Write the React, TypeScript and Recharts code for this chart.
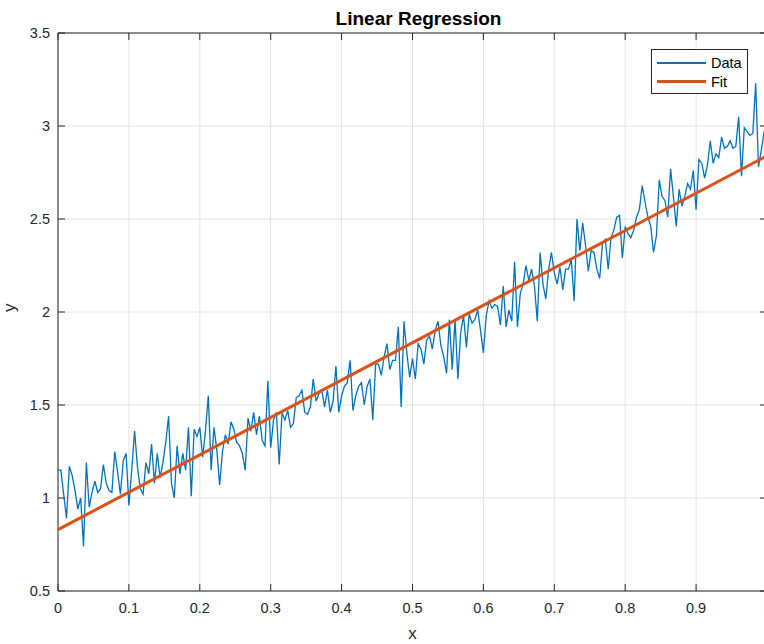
import { LineChart, Line, XAxis, YAxis, CartesianGrid, Legend, ReferenceArea } from 'recharts'

// noisy samples, evenly spaced over x = 0..1
const DATA_Y = [
  1.15, 1.15, 1.02, 0.89, 1.17, 1.12, 1.04, 0.94, 1.0, 0.74,
  1.19, 0.95, 1.03, 1.09, 1.03, 1.05, 1.18, 1.08, 1.04, 1.03,
  1.25, 1.14, 1.02, 1.2, 1.24, 0.96, 1.15, 1.36, 1.17, 1.05,
  1.02, 1.19, 1.13, 1.29, 1.08, 1.24, 1.11, 1.19, 1.3, 1.44,
  1.08, 1.0, 1.28, 1.13, 1.24, 1.15, 1.38, 1.01, 1.37, 1.33,
  1.38, 1.22, 1.36, 1.55, 1.15, 1.38, 1.26, 1.07, 1.25, 1.34,
  1.29, 1.41, 1.37, 1.3, 1.28, 1.24, 1.15, 1.43, 1.36, 1.46,
  1.34, 1.44, 1.31, 1.28, 1.63, 1.27, 1.42, 1.46, 1.18, 1.46,
  1.42, 1.47, 1.38, 1.4, 1.54, 1.55, 1.58, 1.46, 1.45, 1.49,
  1.64, 1.52, 1.56, 1.58, 1.49, 1.58, 1.46, 1.52, 1.71, 1.46,
  1.55, 1.6, 1.62, 1.74, 1.47, 1.55, 1.6, 1.62, 1.5, 1.6,
  1.64, 1.42, 1.72, 1.72, 1.66, 1.76, 1.83, 1.69, 1.74, 1.74,
  1.92, 1.49, 1.95, 1.78, 1.65, 1.75, 1.64, 1.83, 1.8, 1.72,
  1.85, 1.87, 1.8, 1.9, 1.95, 1.82, 1.76, 1.67, 1.96, 1.69,
  1.96, 1.64, 1.89, 1.98, 1.81, 1.99, 1.94, 1.96, 2.01, 1.9,
  1.78, 1.98, 2.06, 2.02, 2.04, 2.03, 1.93, 2.14, 1.92, 2.01,
  1.95, 2.27, 1.92, 2.1, 2.15, 2.25, 2.17, 2.23, 2.14, 1.95,
  2.32, 2.15, 2.07, 2.23, 2.32, 2.21, 2.15, 2.24, 2.12, 2.23,
  2.23, 2.28, 2.06, 2.5, 2.33, 2.48, 2.36, 2.22, 2.33, 2.32,
  2.23, 2.18, 2.37, 2.39, 2.23, 2.4, 2.44, 2.51, 2.52, 2.29,
  2.46, 2.42, 2.4, 2.44, 2.51, 2.55, 2.68, 2.59, 2.51, 2.46,
  2.32, 2.41, 2.71, 2.62, 2.6, 2.51, 2.77, 2.62, 2.46, 2.66,
  2.57, 2.62, 2.69, 2.66, 2.76, 2.55, 2.82, 2.8, 2.72, 2.79,
  2.92, 2.8, 2.85, 2.83, 2.94, 2.88, 2.89, 2.92, 2.88, 2.89,
  3.05, 2.73, 2.99, 2.97, 2.95, 2.96, 3.23, 2.78, 2.87, 2.97,
  2.98,
]

// least-squares line end points
const FIT_X = [0, 1]
const FIT_Y = [0.83, 2.84]

const X_TICKS = [0, 0.1, 0.2, 0.3, 0.4, 0.5, 0.6, 0.7, 0.8, 0.9, 1]
const Y_TICKS = [0.5, 1, 1.5, 2, 2.5, 3, 3.5]

const dataPoints = DATA_Y.map((y, i) => ({ x: i / (DATA_Y.length - 1), y }))
const fitPoints = FIT_X.map((x, i) => ({ x, y: FIT_Y[i] }))

const FONT = '"Liberation Sans", Arial, Helvetica, sans-serif'
const AXIS_COLOR = '#262626'
const CHART_W = 800
const CHART_H = 644
const PLOT_LEFT = 58
const PLOT_RIGHT = 767
const PLOT_TOP = 33
const PLOT_BOTTOM = 591
const TICK_LEN = 7

// tick label plus inward tick marks on both opposite edges (box style axes)
const XTick = ({ x, y, payload }: any) => (
  <g>
    <line x1={x} x2={x} y1={PLOT_BOTTOM} y2={PLOT_BOTTOM - TICK_LEN} stroke={AXIS_COLOR} />
    <line x1={x} x2={x} y1={PLOT_TOP} y2={PLOT_TOP + TICK_LEN} stroke={AXIS_COLOR} />
    <text x={x} y={y} dy="0.71em" textAnchor="middle" fill={AXIS_COLOR} fontSize={14.5} fontFamily={FONT}>
      {String(payload.value)}
    </text>
  </g>
)

const YTick = ({ x, y, payload }: any) => (
  <g>
    <line x1={PLOT_LEFT} x2={PLOT_LEFT + TICK_LEN} y1={y} y2={y} stroke={AXIS_COLOR} />
    <line x1={PLOT_RIGHT} x2={PLOT_RIGHT - TICK_LEN} y1={y} y2={y} stroke={AXIS_COLOR} />
    <text x={x} y={y} dy="0.355em" textAnchor="end" fill={AXIS_COLOR} fontSize={14.5} fontFamily={FONT}>
      {String(payload.value)}
    </text>
  </g>
)

const renderLegend = ({ payload }: any) => (
  <div
    style={{
      width: 95,
      border: `1px solid ${AXIS_COLOR}`,
      background: '#fff',
      padding: '3px 0 2px',
      fontFamily: FONT,
      fontSize: 14.5,
      color: '#000',
    }}
  >
    {(payload || []).map((entry: any) => (
      <div key={entry.value} style={{ display: 'flex', alignItems: 'center', height: 19 }}>
        <span
          style={{
            display: 'inline-block',
            marginLeft: 5,
            width: 49,
            height: entry.value === 'Fit' ? 3.5 : 2,
            background: entry.color,
          }}
        />
        <span style={{ marginLeft: 5 }}>{entry.value}</span>
      </div>
    ))}
  </div>
)

export default function App() {
  return (
    <div
      style={{
        position: 'absolute',
        left: 0,
        top: 0,
        width: 764,
        height: CHART_H,
        overflow: 'hidden',
        background: '#fff',
      }}
    >
      <div
        style={{
          position: 'absolute',
          left: 0,
          width: 837,
          top: 9,
          lineHeight: '19px',
          textAlign: 'center',
          fontFamily: FONT,
          fontWeight: 'bold',
          fontSize: 19,
          color: '#000',
          zIndex: 2,
        }}
      >
        Linear Regression
      </div>
      <LineChart
        width={CHART_W}
        height={CHART_H}
        margin={{ top: PLOT_TOP, right: CHART_W - PLOT_RIGHT, bottom: 0, left: 0 }}
      >
        <CartesianGrid stroke="#e3e3e3" />
        <XAxis
          dataKey="x"
          type="number"
          domain={[0, 1]}
          ticks={X_TICKS}
          tick={XTick}
          tickSize={0}
          tickMargin={12}
          tickLine={false}
          axisLine={false}
          height={CHART_H - PLOT_BOTTOM}
          allowDuplicatedCategory={false}
          label={{ value: 'x', position: 'insideBottom', offset: 5, fill: AXIS_COLOR, fontSize: 17, fontFamily: FONT }}
        />
        <YAxis
          type="number"
          domain={[0.5, 3.5]}
          ticks={Y_TICKS}
          tick={YTick}
          tickSize={0}
          tickMargin={8}
          tickLine={false}
          axisLine={false}
          width={PLOT_LEFT}
          label={{ value: 'y', angle: -90, position: 'insideLeft', offset: 9, fill: AXIS_COLOR, fontSize: 17, fontFamily: FONT }}
        />
        <Line
          data={dataPoints}
          dataKey="y"
          name="Data"
          type="linear"
          stroke="#0072BD"
          strokeWidth={1.3}
          dot={false}
          isAnimationActive={false}
        />
        <Line
          data={fitPoints}
          dataKey="y"
          name="Fit"
          type="linear"
          stroke="#D95319"
          strokeWidth={3}
          dot={false}
          isAnimationActive={false}
        />
        <ReferenceArea x1={0} x2={1} y1={0.5} y2={3.5} fill="none" stroke={AXIS_COLOR} strokeWidth={1} />
        <Legend
          layout="horizontal"
          verticalAlign="middle"
          align="center"
          content={renderLegend}
          wrapperStyle={{ left: 651, top: 49, width: 'auto' }}
        />
      </LineChart>
    </div>
  )
}
